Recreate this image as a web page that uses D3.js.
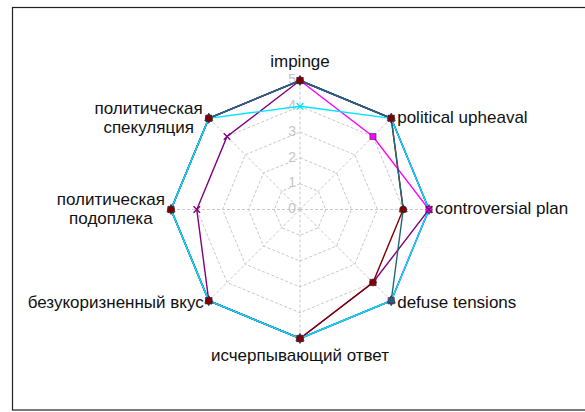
<!DOCTYPE html>
<html><head><meta charset="utf-8">
<script src="https://cdn.jsdelivr.net/npm/d3@7"></script>
<style>body{margin:0;background:#fff}svg{display:block}text{font-family:"Liberation Sans",Arial,sans-serif}</style>
</head><body>
<svg id="c" width="585" height="412"></svg>
<script>
const categories = ["impinge","political upheaval","controversial plan","defuse tensions","исчерпывающий ответ","безукоризненный вкус","политическая подоплека","политическая спекуляция"];
const tickLabels = [0,1,2,3,4,5];
const seriesMagenta = [5,4,5,5,5,5,5,5];
const seriesPurple  = [5,5,5,4,5,5,4,4];
const seriesMaroon  = [5,5,4,4,5,5,5,5];
const seriesNavy    = [5,5,5,5,5,5,5,5];
const seriesTeal    = [5,5,4,5,5,5,5,5];
const seriesCyan    = [4,5,5,5,5,5,5,5];

const series = [
  {values: seriesMagenta, color:"#FF00FF", marker:"square"},
  {values: seriesPurple,  color:"#800080", marker:"star"},
  {values: seriesMaroon,  color:"#800000", marker:"circle"},
  {values: seriesNavy,    color:"#2b2bc0", marker:"diamond"},
  {values: seriesTeal,    color:"#1f6a78", marker:"triangle"},
  {values: seriesCyan,    color:"#00E5FF", marker:"cross"}
];
const markerOrder = [5,3,0,1,4,2];

const svg = d3.select("#c");
svg.append("rect").attr("x",12.5).attr("y",7.5).attr("width",590).attr("height",402.5)
  .attr("fill","#fff").attr("stroke","#222").attr("stroke-width",1.2);

const cx = 300, cy = 209.5;
const r = d3.scaleLinear().domain([0,5]).range([0,129]);
const n = categories.length;
const ang = d3.scaleLinear().domain([0,n]).range([0,2*Math.PI]);
const pt = (i,v) => [cx + r(v)*Math.sin(ang(i)), cy - r(v)*Math.cos(ang(i))];

const g = svg.append("g");
tickLabels.slice(1).forEach(t => {
  g.append("path").attr("d", d3.line()(d3.range(n).map(i=>pt(i,t))) + "Z")
    .attr("fill","none").attr("stroke","#c8c8c8").attr("stroke-width",1).attr("stroke-dasharray","3,2");
});
d3.range(n).forEach(i => {
  const p = pt(i,5);
  g.append("line").attr("x1",cx).attr("y1",cy).attr("x2",p[0]).attr("y2",p[1])
    .attr("stroke","#c8c8c8").attr("stroke-width",1).attr("stroke-dasharray","3,2");
});
tickLabels.forEach(t => {
  g.append("text").attr("x",cx-4).attr("y",cy - r(t)).attr("text-anchor","end")
    .attr("dominant-baseline","middle").attr("font-size",14).attr("fill","#c4c4c4").text(t);
});

const sym = {square:d3.symbolSquare, star:d3.symbolTimes, circle:d3.symbolCircle, diamond:d3.symbolDiamond, triangle:d3.symbolTriangle, cross:d3.symbolTimes};
series.forEach(s => {
  const pts = s.values.map((v,i)=>pt(i,v));
  g.append("path").attr("d", d3.line()(pts)+"Z").attr("fill","none")
    .attr("stroke",s.color).attr("stroke-width",1.4);
});
markerOrder.forEach(k => {
  const s = series[k];
  s.values.forEach((v,i) => {
    const p = pt(i,v);
    const shape = d3.symbol().type(sym[s.marker]).size(s.marker==="circle"?40:(s.marker==="square"?38:30));
    const isLine = (s.marker==="star"||s.marker==="cross");
    g.append("path").attr("d",shape()).attr("transform",`translate(${p[0]},${p[1]})`)
      .attr("fill", isLine ? "none" : s.color)
      .attr("stroke", isLine ? s.color : "#333")
      .attr("stroke-width", isLine ? 1.3 : 0.6);
  });
});

const fs = 17;
categories.forEach((c,i) => {
  const p = pt(i,5);
  const a = ang(i);
  const sx = Math.sin(a), sy = -Math.cos(a);
  if (i===0) {
    g.append("text").attr("x",p[0]).attr("y",p[1]-18).attr("text-anchor","middle")
      .attr("dominant-baseline","middle").attr("font-size",fs).attr("fill","#111").text(c);
  } else if (i===4) {
    g.append("text").attr("x",p[0]).attr("y",p[1]+18).attr("text-anchor","middle")
      .attr("dominant-baseline","middle").attr("font-size",fs).attr("fill","#111").text(c);
  } else if (sx > 0.1) {
    g.append("text").attr("x",p[0]+6).attr("y",p[1]+(sy>0.1?3:0)).attr("text-anchor","start")
      .attr("dominant-baseline","middle").attr("font-size",fs).attr("fill","#111").text(c);
  } else {
    const words = c.split(" ");
    if (words.length === 2 && i !== 5) {
      const tmp = g.append("text").attr("font-size",fs).text(words[0]);
      const w = tmp.node().getComputedTextLength(); tmp.remove();
      const xc = p[0] - 6 - w/2;
      const t = g.append("text").attr("x",xc).attr("y",p[1]).attr("text-anchor","middle")
        .attr("font-size",fs).attr("fill","#111");
      t.append("tspan").attr("x",xc).attr("y",p[1]-9).attr("dominant-baseline","middle").text(words[0]);
      t.append("tspan").attr("x",xc).attr("y",p[1]+10).attr("dominant-baseline","middle").text(words[1]);
    } else {
      g.append("text").attr("x",p[0]-5).attr("y",p[1]+3).attr("text-anchor","end")
        .attr("dominant-baseline","middle").attr("font-size",fs).attr("fill","#111").text(c);
    }
  }
});
</script>
</body></html>
